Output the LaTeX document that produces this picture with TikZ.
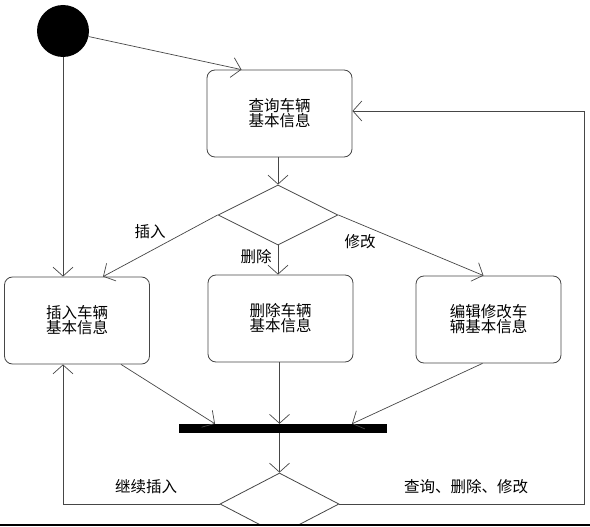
\documentclass[tikz,border=0pt]{standalone}
\usepackage{fontspec}
\newfontfamily\cjk{Noto Sans CJK SC}
\usepackage{tikz}
\usetikzlibrary{arrows.meta,shapes.geometric}
\definecolor{linegray}{RGB}{70,70,70}

\begin{document}
\begin{tikzpicture}[x=1pt, y=-1pt,
    every node/.style={font=\cjk\fontsize{15.5}{15}\selectfont},
    actbox/.style={draw=linegray, line width=0.8pt, rounded corners=8pt, minimum width=145pt, minimum height=87pt, align=center, inner sep=0pt},
    decision/.style={draw=linegray, line width=0.8pt, diamond, minimum width=120pt, minimum height=60pt, inner sep=0pt, fill=white},
    flow/.style={draw=linegray, line width=0.7pt, -{Straight Barb[length=9pt,width=20pt]}}]
        \useasboundingbox (0,0) rectangle (590,527);
        \node[circle, fill=black, minimum size=52pt, inner sep=0pt] (start) at (63,31) {};
        \node[actbox] (query) at (279.5,113.5) {查询车辆\\基本信息};
        \node[decision] (choice) at (278,215) {};
        \node[actbox] (insert) at (77,320.5) {插入车辆\\基本信息};
        \node[actbox] (delete) at (280.5,318.5) {删除车辆\\基本信息};
        \node[actbox] (edit) at (488.5,319.5) {编辑修改车\\辆基本信息};
        \node[fill=black, minimum width=208pt, minimum height=9pt, inner sep=0pt] (bar) at (283,428.5) {};
        \node[decision, minimum width=119pt, minimum height=62pt] (again) at (279.5,504) {};
        % guard labels
        \node (lblins) at (150,232) {插入};
        \node (lbldel) at (256,257) {删除};
        \node (lbledit) at (360,242) {修改};
        \node (lblmore) at (146,487) {继续插入};
        \node (lblback) at (466,487) {查询、删除、修改};
        \coordinate (rturn) at (584,504);
        % transitions
        \draw[flow] (start) -- ([xshift=-38pt]query.north);
        \draw[flow] (start.south) -- (start.south |- insert.north);
        \draw[flow] (query.south -| choice.north) -- (choice.north);
        \draw[flow] (choice.west) -- ([xshift=26pt]insert.north);
        \draw[flow] (choice.south) -- (choice.south |- delete.north);
        \draw[flow] (choice.east) -- ([xshift=-5pt]edit.north);
        \draw[flow] ([xshift=44pt]insert.south) -- ([xshift=-68pt]bar.north);
        \draw[flow] (delete.south -| again.north) -- (bar.north -| again.north);
        \draw[flow] ([xshift=-6pt]edit.south) -- ([xshift=69pt]bar.north);
        \draw[flow] (bar.south -| again.north) -- (again.north);
        \draw[flow] (again.west) -| ([xshift=-14pt]insert.south);
        \draw[flow] (again.east) -- (rturn) |- ([yshift=2.5pt]query.east);
        \fill[white] (0,525) rectangle (590,530);
        \draw[line width=1.6pt] (0,525.2) -- (590,525.2);
      \end{tikzpicture}
\end{document}
